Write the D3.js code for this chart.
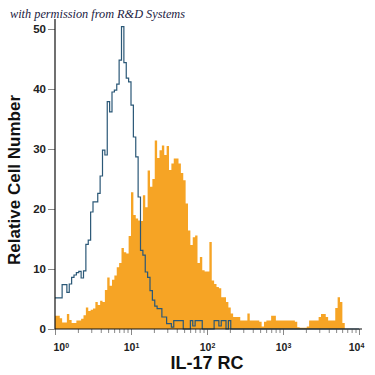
<!DOCTYPE html>
<html><head><meta charset="utf-8">
<script src="https://cdn.jsdelivr.net/npm/d3@7"></script>
<style>body{margin:0;background:#fff}svg{display:block}</style>
</head><body>
<svg id="c" width="375" height="375"></svg>
<script>
const binsPerDecade = 32;
const decadeExponents = [0, 1, 2, 3, 4];
const yTickValues = [0, 10, 20, 30, 40, 50];
const xTitle = "IL-17 RC";
const yTitle = "Relative Cell Number";
const credit = "with permission from R&D Systems";

// isotype control (outline), one value per 1/32 decade bin
const isotypeCounts = [
  5.2,5.2,5.2,7.4,7.4,6.1,7.5,8.6,9.0,9.4,9.6,8.5,9.7,14.1,14.8,19.5,
  21.2,21.2,22.6,25.5,29.8,29.0,37.9,36.2,39.5,39.8,40.8,44.8,50.4,44.4,41.8,41.2,
  37.3,32.0,28.7,22.0,13.1,12.3,9.5,8.6,6.4,4.8,3.8,3.4,3.4,2.0,2.0,0.9,
  0.9,0.3,1.4,1.4,1.4,1.4,0,0,0,1.4,0.5,1.4,1.4,1.4,0,0,
  0,0,0,1.4,1.4,0.5,1.4,1.4,0,1.4,0,0,0,0,0,0,
  0,0,0,0,0,0,0,0,0,0,0,0,0,0,0,0,
  0,0,0,0,0,0,0,0,0,0,0,0,0,0,0,0,
  0,0,0,0,0,0,0,0,0,0,0,0,0,0,0,0
];
// IL-17 RC stained (filled)
const il17rcCounts = [
  2.2,2.2,1.8,1.1,1.1,2.5,1.5,1.0,1.0,1.4,1.4,1.7,2.3,3.6,3.0,3.2,
  3.4,4.5,4.0,4.7,4.5,6.5,8.6,7.2,8.2,8.9,10.3,11.0,13.5,12.8,12.6,15.5,
  22.8,19.0,18.4,18.1,18.0,22.3,20.3,26.4,23.7,25.0,31.4,28.5,29.8,30.6,29.0,30.5,
  26.5,27.6,28.4,28.4,27.6,26.0,24.8,20.9,16.4,14.0,15.3,15.6,11.0,12.0,9.8,9.6,
  9.6,14.5,8.1,7.5,7.0,6.8,5.3,5.3,4.5,3.6,2.6,2.0,2.0,2.0,1.4,1.4,
  1.4,2.6,1.4,1.4,1.4,1.4,1.2,0.4,1.2,1.4,1.4,2.2,2.2,1.4,1.4,1.4,
  1.4,1.4,1.4,1.4,1.4,1.2,0.3,0.2,0.2,0.2,0.4,1.4,1.4,1.4,1.4,2.0,
  2.5,2.5,2.0,1.4,1.4,1.4,3.5,5.3,4.5,1.0,0,0,0,0,0,0
];

const svg = d3.select("#c");
const x = d3.scaleLog().domain([1, 10000]).range([55, 359]);
const y = d3.scaleLinear().domain([0, 50]).range([329, 29]);
const font = "'Liberation Sans', Arial, sans-serif";

const edge = i => Math.pow(10, i / binsPerDecade);
function stepData(arr) {
  const pts = arr.map((v, i) => ({ x: edge(i), v }));
  pts.push({ x: edge(arr.length), v: arr[arr.length - 1] });
  return pts;
}
const area = d3.area().x(d => x(d.x)).y0(y(0)).y1(d => y(d.v)).curve(d3.curveStepAfter);
const line = d3.line().x(d => x(d.x)).y(d => y(d.v)).curve(d3.curveStepAfter);

svg.append("path").datum(stepData(il17rcCounts)).attr("d", area)
  .attr("fill", "#f6a425").attr("stroke", "none");
svg.append("path").datum(stepData(isotypeCounts)).attr("d", line)
  .attr("fill", "none").attr("stroke", "#2b5877").attr("stroke-width", 1.2);

// X axis
const majors = decadeExponents.map(e => Math.pow(10, e));
const minors = [];
decadeExponents.slice(0, -1).forEach(e => { for (let k = 2; k <= 9; k++) minors.push(k * Math.pow(10, e)); });

const gx = svg.append("g").attr("transform", "translate(0,329)");
gx.call(d3.axisBottom(x).tickValues(minors).tickSize(4).tickFormat(""))
  .call(g => g.select(".domain").remove())
  .call(g => g.selectAll("line").attr("stroke", "#888"));
const gx2 = svg.append("g").attr("transform", "translate(0,329)");
gx2.call(d3.axisBottom(x).tickValues(majors).tickSize(6).tickPadding(9).tickFormat(""))
  .call(g => g.select(".domain").remove())
  .call(g => g.selectAll("line").attr("stroke", "#888"));
gx2.selectAll(".tick text").each(function(d, i) {
  const t = d3.select(this);
  t.attr("font-family", font).attr("font-size", 10.5).attr("font-weight", "bold").attr("fill", "#222")
   .attr("dy", "0.71em");
  if (i === 0) t.attr("text-anchor", "start").attr("x", -2);
  if (i === decadeExponents.length - 1) t.attr("x", -3);
  t.append("tspan").text("10");
  t.append("tspan").text(String(decadeExponents[i])).attr("font-size", 7).attr("dy", "-0.55em");
});
svg.append("line").attr("x1", 55).attr("x2", 362).attr("y1", 329).attr("y2", 329)
  .attr("stroke", "#111").attr("stroke-width", 1.2);

// Y axis
const gy = svg.append("g").attr("transform", "translate(55,0)");
gy.call(d3.axisLeft(y).tickValues(yTickValues).tickSize(7).tickPadding(2))
  .call(g => g.select(".domain").remove())
  .call(g => g.selectAll("line").attr("stroke", "#888"))
  .call(g => g.selectAll("text").attr("font-family", font).attr("font-size", 11.5)
     .attr("font-weight", "bold").attr("fill", "#222"));
svg.append("line").attr("x1", 55).attr("x2", 55).attr("y1", 19).attr("y2", 329)
  .attr("stroke", "#111").attr("stroke-width", 1.2);

// Titles
svg.append("text").text(xTitle).attr("x", 207).attr("y", 369).attr("text-anchor", "middle")
  .attr("font-family", font).attr("font-weight", "bold").attr("font-size", 18).attr("fill", "#111");
svg.append("text").text(yTitle).attr("transform", "translate(20,180) rotate(-90)")
  .attr("text-anchor", "middle").attr("font-family", font).attr("font-weight", "bold")
  .attr("font-size", 17).attr("fill", "#111");
svg.append("text").text(credit).attr("x", 10).attr("y", 18)
  .attr("font-family", "'Liberation Serif', 'DejaVu Serif', serif").attr("font-style", "italic")
  .attr("font-size", 12).attr("textLength", 175).attr("lengthAdjust", "spacingAndGlyphs")
  .attr("fill", "#1b1b3f");
</script>
</body></html>
